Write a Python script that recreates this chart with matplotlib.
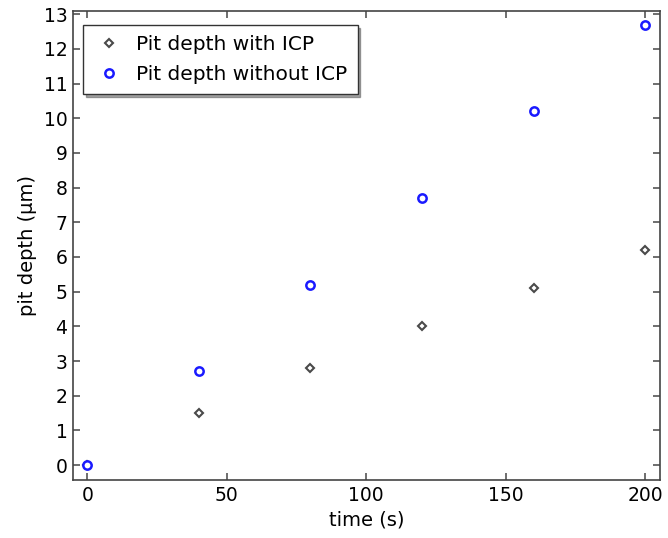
import matplotlib
matplotlib.use("Agg")
import matplotlib.pyplot as plt

time_s = [0, 40, 80, 120, 160, 200]
depth_with_icp = [0, 1.5, 2.8, 4.0, 5.1, 6.2]
depth_without_icp = [0, 2.7, 5.2, 7.7, 10.2, 12.7]

plt.rcParams['font.family'] = ['DejaVu Sans']
fig = plt.figure(figsize=(6.68, 5.38), dpi=100)
ax = fig.add_axes([73/668, 1-480/538, (660-73)/668, (480-11)/538])

ax.plot(time_s, depth_with_icp, linestyle='none', marker='D', markersize=4.5,
        markerfacecolor='white', markeredgecolor='#4a4a4a', markeredgewidth=1.5,
        label='Pit depth with ICP')
ax.plot(time_s, depth_without_icp, linestyle='none', marker='o', markersize=6,
        markerfacecolor='white', markeredgecolor='#1a1aff', markeredgewidth=1.8,
        label='Pit depth without ICP')

ax.set_xlim(-5.1, 205.3)
ax.set_ylim(-0.43, 13.09)
ax.set_xticks([0, 50, 100, 150, 200])
ax.set_yticks(range(0, 14))
ax.tick_params(direction='in', top=True, right=True, labelsize=13.5, length=5,
               color='#555555', width=1.2, pad=4)
for s in ax.spines.values():
    s.set_color('#444444')
    s.set_linewidth(1.2)
ax.set_xlabel('time (s)', fontsize=14, labelpad=4)
ax.set_ylabel('pit depth (µm)', fontsize=14, labelpad=5)

leg = ax.legend(loc='upper left', bbox_to_anchor=(10/587, 1-14/469), borderaxespad=0,
                fontsize=14.5, frameon=True, fancybox=False, shadow=True,
                handletextpad=0.55, handlelength=1.6, borderpad=0.5, labelspacing=0.55)
leg.get_frame().set_edgecolor('#333333')
leg.get_frame().set_linewidth(1.0)

fig.savefig('out.png', dpi=100)
